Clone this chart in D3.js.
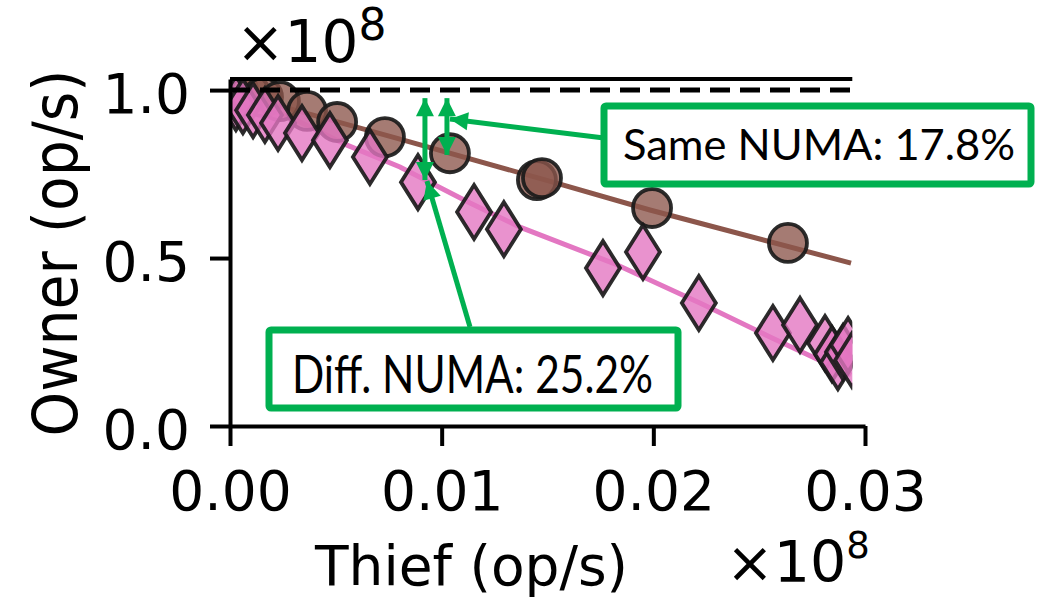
<!DOCTYPE html>
<html>
<head>
<meta charset="utf-8">
<script src="https://cdnjs.cloudflare.com/ajax/libs/d3/7.8.5/d3.min.js"></script>
<style>
body{margin:0;background:#fff;}
</style>
</head>
<body>
<div id="vizz"></div>
<script>
//DATA (both axes in units of 1e8 op/s)
// same NUMA node runs (brown circles)
var same_thief = [0.00038, 0.00094, 0.00156, 0.00236, 0.00364, 0.00506, 0.00732, 0.01039, 0.01450, 0.01474, 0.01994, 0.02636];
var same_owner = [1.000, 0.991, 0.979, 0.967, 0.938, 0.905, 0.860, 0.812, 0.732, 0.738, 0.649, 0.545];
// different NUMA node runs (pink diamonds)
var diff_thief = [0.00028, 0.00061, 0.00109, 0.00165, 0.00227, 0.00340, 0.00472, 0.00661, 0.00888, 0.01153, 0.01294, 0.01762, 0.01951, 0.02215, 0.02565, 0.02693, 0.02811, 0.02844, 0.02872, 0.02896, 0.02920, 0.02939];
var diff_owner = [0.961, 0.952, 0.940, 0.926, 0.902, 0.872, 0.851, 0.801, 0.726, 0.637, 0.586, 0.470, 0.518, 0.366, 0.277, 0.301, 0.247, 0.214, 0.190, 0.220, 0.241, 0.196];
// fitted curves
var same_fit_thief = [0, 0.00803, 0.01526, 0.01984, 0.02934];
var same_fit_owner = [0.994, 0.854, 0.726, 0.643, 0.485];
var diff_fit_thief = [0, 0.00331, 0.00553, 0.00803, 0.01134, 0.01370, 0.01809, 0.02220, 0.02551, 0.02934];
var diff_fit_owner = [0.994, 0.905, 0.836, 0.771, 0.664, 0.592, 0.485, 0.366, 0.265, 0.152];

var x_ticks = [0, 0.01, 0.02, 0.03];
var y_ticks = [0, 0.5, 1.0];
var baseline_owner = 1.0;   // dashed line (no thief)
var x_shown = 0.0294;       // curves + top spine stop here
var y_top = 1.033;
var notes = ["Same NUMA: 17.8%", "Diff. NUMA: 25.2%"];
// double arrows: thief value, owner from / to
var same_gap = {x: 0.01025, y0: 0.976, y1: 0.807};
var diff_gap = {x: 0.00921, y0: 0.976, y1: 0.732};

var green = "#00b050";
var font = "'DejaVu Sans', sans-serif";

var svg = d3.select("#vizz")
  .append("svg")
    .attr("width", 1038)
    .attr("height", 599);

var x = d3.scaleLinear().domain([0, 0.03]).range([230, 865]);
var y = d3.scaleLinear().domain([0, y_top]).range([426, 79]);

svg.append("clipPath").attr("id", "plotclip")
  .append("rect")
    .attr("x", x(0)).attr("y", y(y_top))
    .attr("width", x(x_shown) - x(0))
    .attr("height", y(0) - y(y_top));

var plot = svg.append("g").attr("clip-path", "url(#plotclip)");

//LINES
var line = d3.line()
  .x(function(d){ return x(d[0]); })
  .y(function(d){ return y(d[1]); });

plot.append("path")
  .datum(d3.zip(same_fit_thief, same_fit_owner))
  .attr("d", line)
  .attr("fill", "none")
  .attr("stroke", "#8c564b")
  .attr("stroke-width", 5);

plot.append("path")
  .datum(d3.zip(diff_fit_thief, diff_fit_owner))
  .attr("d", line)
  .attr("fill", "none")
  .attr("stroke", "#e377c2")
  .attr("stroke-width", 5);

//MARKERS
plot.selectAll("circle.same")
  .data(d3.zip(same_thief, same_owner))
  .enter()
  .append("circle")
    .attr("class", "same")
    .attr("cx", function(d){ return x(d[0]); })
    .attr("cy", function(d){ return y(d[1]); })
    .attr("r", 19)
    .attr("fill", "#8c564b")
    .attr("fill-opacity", 0.78)
    .attr("stroke", "#1a1a1a")
    .attr("stroke-opacity", 0.92)
    .attr("stroke-width", 3.8);

plot.selectAll("path.diff")
  .data(d3.zip(diff_thief, diff_owner))
  .enter()
  .append("path")
    .attr("class", "diff")
    .attr("d", "M0,-27L17,0L0,27L-17,0Z")
    .attr("transform", function(d){ return "translate(" + x(d[0]) + "," + y(d[1]) + ")"; })
    .attr("fill", "#e377c2")
    .attr("fill-opacity", 0.8)
    .attr("stroke", "#1a1a1a")
    .attr("stroke-opacity", 0.92)
    .attr("stroke-width", 3.8)
    .attr("stroke-linejoin", "miter");

//REFERENCE LINE + TOP SPINE
svg.append("line")
  .attr("x1", x(0)).attr("x2", x(x_shown))
  .attr("y1", y(baseline_owner)).attr("y2", y(baseline_owner))
  .attr("stroke", "#000")
  .attr("stroke-width", 5)
  .attr("stroke-dasharray", "20,10");

svg.append("line")
  .attr("x1", x(0)).attr("x2", x(x_shown))
  .attr("y1", y(y_top)).attr("y2", y(y_top))
  .attr("stroke", "#000")
  .attr("stroke-width", 4);

//AXES
var gx = svg.append("g")
  .attr("transform", "translate(0," + y(0) + ")")
  .call(d3.axisBottom(x).tickValues(x_ticks).tickFormat(d3.format(".2f"))
    .tickSize(20).tickSizeOuter(0).tickPadding(25));

var gy = svg.append("g")
  .attr("transform", "translate(" + x(0) + ",0)")
  .call(d3.axisLeft(y).tickValues(y_ticks).tickFormat(d3.format(".1f"))
    .tickSize(20).tickSizeOuter(0).tickPadding(20));

[gx, gy].forEach(function(g){
  g.select(".domain").attr("stroke-width", 4);
  g.selectAll(".tick line").attr("stroke-width", 4);
  g.selectAll("text")
    .attr("font-family", font)
    .attr("font-size", 55)
    .attr("fill", "#000");
});
gy.selectAll("text").attr("dy", "0.4em");

//LABELS
svg.append("text")
  .attr("transform", "translate(77,253) rotate(-90)")
  .attr("text-anchor", "middle")
  .attr("font-family", font)
  .attr("font-size", 62)
  .attr("textLength", 367)
  .attr("lengthAdjust", "spacingAndGlyphs")
  .text("Owner (op/s)");

svg.append("text")
  .attr("x", 315).attr("y", 585)
  .attr("font-family", font)
  .attr("font-size", 55)
  .text("Thief (op/s)");

// offset texts
function offsetText(x0, base, size, supSize, supRaise){
  var t = svg.append("text")
    .attr("x", x0).attr("y", base)
    .attr("font-family", font)
    .attr("font-size", size);
  t.append("tspan").text("\u00d710");
  t.append("tspan").attr("font-size", supSize).attr("dy", -supRaise).text("8");
}
offsetText(236, 62, 58, 44, 22);
offsetText(726, 582, 57, 37, 24);

//ANNOTATIONS
function arrowHead(x1, y1, x2, y2){
  var a = Math.atan2(y2 - y1, x2 - x1);
  var len = 18, half = 9;
  var bx = x2 - len * Math.cos(a), by = y2 - len * Math.sin(a);
  var pts = [
    [x2, y2],
    [bx + half * Math.sin(a), by - half * Math.cos(a)],
    [bx - half * Math.sin(a), by + half * Math.cos(a)]
  ];
  svg.append("polygon")
    .attr("points", pts.map(function(p){ return p.join(","); }).join(" "))
    .attr("fill", green);
}
function arrow(x1, y1, x2, y2, both){
  svg.append("line")
    .attr("x1", x1).attr("y1", y1).attr("x2", x2).attr("y2", y2)
    .attr("stroke", green)
    .attr("stroke-width", 5);
  arrowHead(x1, y1, x2, y2);
  if(both){ arrowHead(x2, y2, x1, y1); }
}

// gaps between ideal and each series
arrow(x(same_gap.x), y(same_gap.y1), x(same_gap.x), y(same_gap.y0), true);
arrow(x(diff_gap.x), y(diff_gap.y1), x(diff_gap.x), y(diff_gap.y0), true);

// connectors from boxes
arrow(604, 138, x(same_gap.x) + 3, 119, false);
arrow(470, 327, x(diff_gap.x) + 2, 181, false);

function noteBox(bx, by, bw, bh, txt, tx, ty, size, tlen){
  svg.append("rect")
    .attr("x", bx).attr("y", by)
    .attr("width", bw).attr("height", bh)
    .attr("rx", 2)
    .attr("fill", "#fff")
    .attr("stroke", green)
    .attr("stroke-width", 7);
  svg.append("text")
    .attr("x", tx).attr("y", ty)
    .attr("font-family", "Lato, 'Open Sans', sans-serif")
    .attr("font-size", size)
    .attr("textLength", tlen)
    .attr("lengthAdjust", "spacingAndGlyphs")
    .text(txt);
}
noteBox(604, 106, 427, 78, notes[0], 623, 160, 42, 392);
noteBox(269, 330, 409, 78, notes[1], 292, 393, 52, 361);
</script>
</body>
</html>
